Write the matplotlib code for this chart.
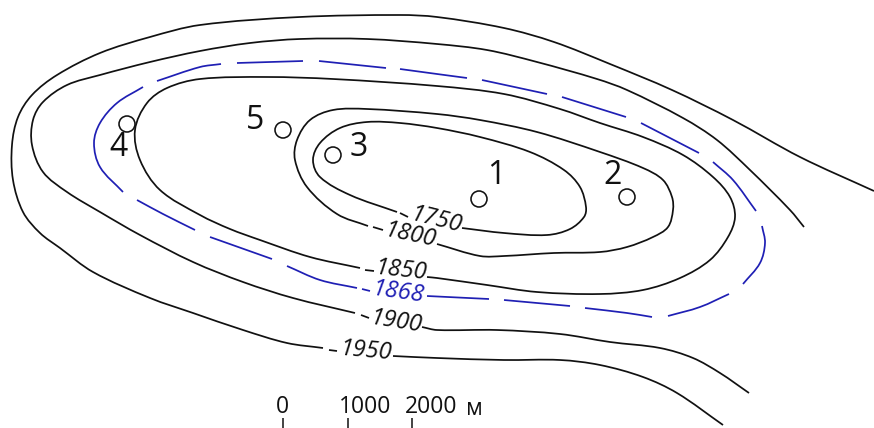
import matplotlib
matplotlib.use("Agg")
import math
import matplotlib.pyplot as plt
from matplotlib.path import Path
from matplotlib.patches import PathPatch, Circle

BLUE = "#1f1fb4"
BLACK = "#111111"

c1950 = [[(874,191),(800,157),(733,120),(672,90),(610,64),(554,42),(504,28),(437,17),(400,15),(300,17),(200,25),(150,37),(100,53),(57,75),(32,95),(18,117),(12,145),(13,180),(23,212),(40,233),(60,248),(93,272),(150,298),(193,313),(243,330),(287,343),(323,348)],
         [(329,350),(337,351)],
         [(393,356),(437,358),(504,360),(560,360),(600,365),(643,377),(677,393),(723,425)]]
c1900 = [[(804,227),(790,210),(750,170),(717,140),(683,118),(627,90),(597,79),(537,62),(487,50),(437,44),(367,39),(300,39),(250,43),(200,51),(150,62),(100,75),(67,85),(43,102),(33,120),(32,145),(43,172),(67,192),(100,212),(140,235),(193,262),(243,282),(293,298),(355,313)],
         [(361,315),(369,318)],
         [(422,327),(437,330),(497,330),(560,334),(610,342),(660,348),(693,358),(720,373),(749,393)]]
c1850 = [[(365,270),(374,271)],
         [(427,277),(437,278),(487,285),(537,292),(600,294),(643,290),(680,278),(710,260),(728,237),(735,217),(730,197),(713,177),(683,155),(643,137),(600,123),(560,109),(504,94),(437,86),(333,79),(267,77),(200,79),(167,88),(147,103),(135,130),(140,160),(160,190),(200,215),(230,229),(260,240),(310,257),(360,268)]]
c1800 = [[(373,227),(383,230)],
         [(437,244),(480,256),(504,256),(554,253),(600,252),(627,247),(653,237),(668,227),(673,210),(672,197),(663,180),(643,168),(600,152),(537,132),(480,120),(437,114),(367,109),(333,110),(310,120),(297,140),(295,160),(307,187),(337,214),(368,226)]]
c1750 = [[(400,213),(408,217)],
         [(462,228),(504,233),(547,235),(570,229),(584,217),(586,207),(580,187),(564,170),(530,152),(480,137),(437,128),(400,123),(367,122),(340,128),(320,143),(313,160),(320,177),(350,195),(397,212)]]
c1868 = [[(427,296),(489,299)],[(504,300),(570,306)],[(585,308),(627,313),(652,317)],
         [(668,316),(700,307),(729,294)],[(743,284),(760,263),(765,243),(762,226)],
         [(756,211),(733,180),(713,162)],[(699,153),(641,123)],[(626,117),(562,97)],
         [(547,94),(482,80)],[(467,78),(437,74),(400,69)],[(386,68),(319,61)],[(303,61),(237,63)],
         [(221,64),(200,67),(157,81)],[(143,87),(117,103),(100,123),(94,143),(100,167),(123,192)],
         [(137,200),(163,214),(195,230)],[(210,237),(272,259)],[(287,266),(320,280),(357,288)],[(362,289),(370,291)]]

contour_values = ["1750","1800","1850","1868","1900","1950"]
label_xy = [(436,220),(410,236),(401,271),(398,293),(396,322),(366,351)]
label_rot = [-14,-12,-6,-8,-9,-5]
label_col = [BLACK,BLACK,BLACK,BLUE,BLACK,BLACK]

well_names = ["1","2","3","4","5"]
well_xy = [(479,199),(627,197),(333,155),(127,124),(283,130)]
well_lab = [(496,175),(613,175),(359,147),(118,148),(255,120)]

scale_ticks = [283,348,412]
scale_text = ["0","1000","2000","м"]
scale_text_x = [282.5,365,431,474]
scale_text_y = [407,407,407,409]

FONT = ["Open Sans","DejaVu Sans"]

fig = plt.figure(figsize=(8.74,4.28), dpi=100)
ax = fig.add_axes([0,0,1,1])
ax.set_xlim(0,874); ax.set_ylim(428,0); ax.axis("off")

def smooth(pts, color, lw=1.25):
    if len(pts) == 2:
        ax.plot(*zip(*pts), color=color, lw=lw, solid_capstyle="butt")
        return
    n = len(pts)
    tang = []
    for i in range(n):
        a = pts[max(i-1,0)]; b = pts[min(i+1,n-1)]
        dx, dy = b[0]-a[0], b[1]-a[1]
        d = math.hypot(dx,dy) or 1
        tang.append((dx/d,dy/d))
    verts=[pts[0]]; codes=[Path.MOVETO]
    for i in range(n-1):
        p1=pts[i]; p2=pts[i+1]
        L=math.hypot(p2[0]-p1[0],p2[1]-p1[1])/3
        verts += [(p1[0]+tang[i][0]*L,p1[1]+tang[i][1]*L),
                  (p2[0]-tang[i+1][0]*L,p2[1]-tang[i+1][1]*L), p2]
        codes += [Path.CURVE4]*3
    ax.add_patch(PathPatch(Path(verts,codes),fc="none",ec=color,lw=lw,capstyle="butt"))

for c in (c1950,c1900,c1850,c1800,c1750):
    for seg in c: smooth(seg,BLACK)
for seg in c1868: smooth(seg,BLUE)

for t,xy,r,col in zip(contour_values,label_xy,label_rot,label_col):
    ax.text(*xy,t,rotation=r,rotation_mode="anchor",ha="center",va="center",color=col,
            fontsize=17,style="italic",family=FONT)

for xy in well_xy:
    ax.add_patch(Circle(xy,8,fc="none",ec=BLACK,lw=1.15))
for t,xy in zip(well_names,well_lab):
    ax.text(*xy,t,ha="center",va="center",fontsize=23,color=BLACK,family=FONT)

ax.vlines(scale_ticks,418,428,color=BLACK,lw=1.1)
for t,x,y in zip(scale_text,scale_text_x,scale_text_y):
    ax.text(x,y,t,ha="center",va="center",fontsize=16.5,color=BLACK,family=FONT)

fig.savefig("out.png",dpi=100)
